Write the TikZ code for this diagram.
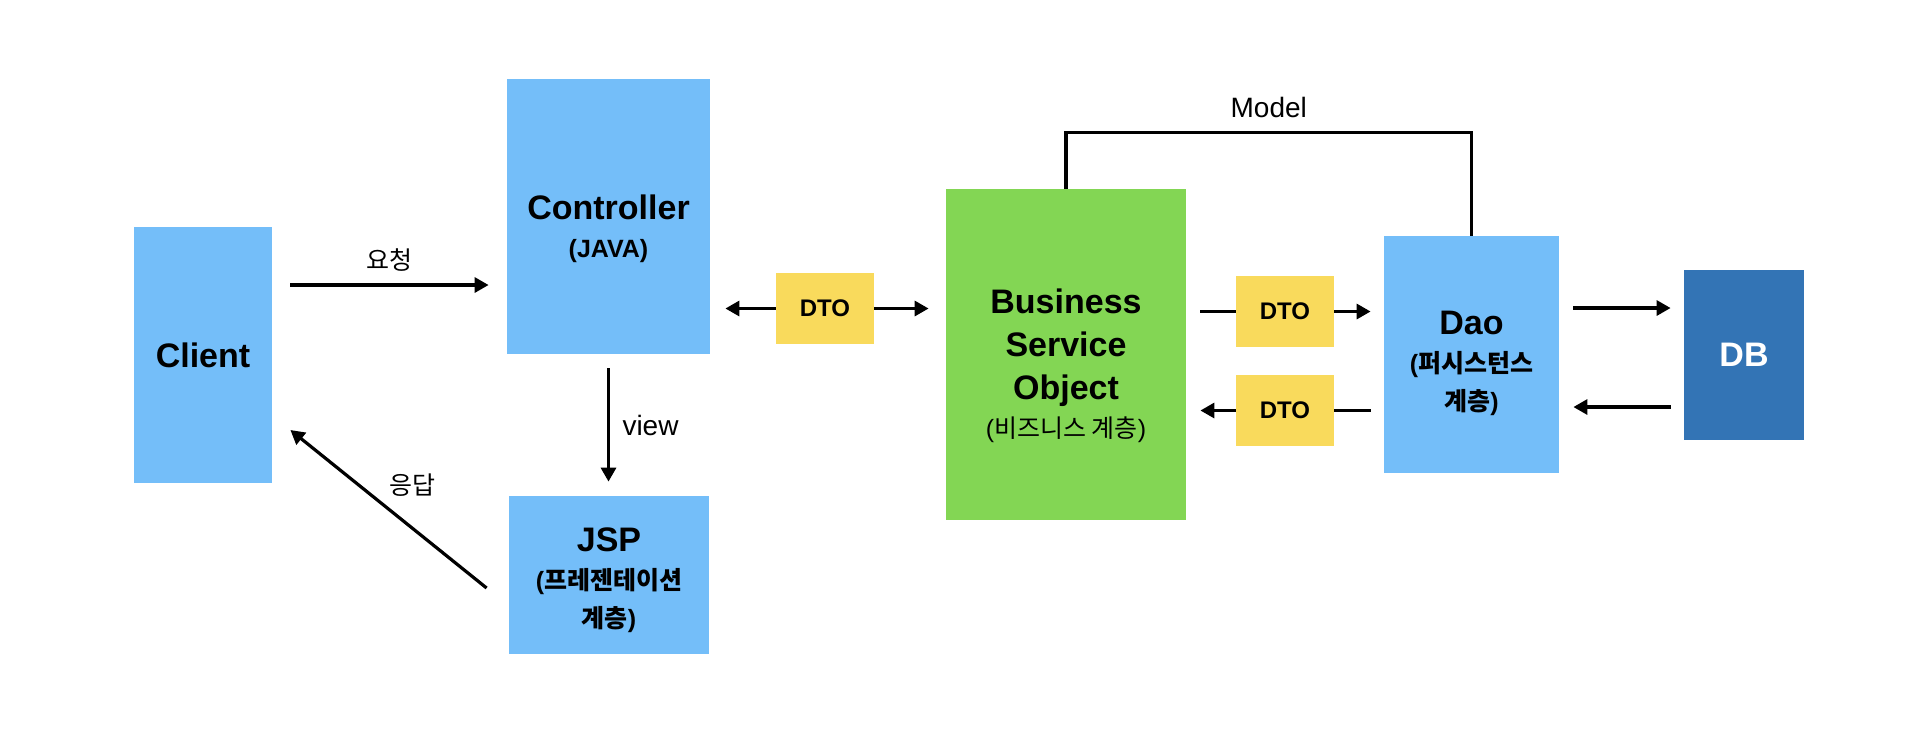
\documentclass[tikz,border=0pt]{standalone}
\usepackage{fontspec}
\setmainfont{Liberation Sans}
\newfontfamily\krfont{Noto Sans CJK KR}
\usetikzlibrary{arrows.meta,calc}

\definecolor{boxblue}{RGB}{116,190,249}
\definecolor{boxgreen}{RGB}{131,214,84}
\definecolor{boxyellow}{RGB}{249,218,92}
\definecolor{dbblue}{RGB}{51,116,181}

\newcommand{\kor}[1]{{\krfont #1}}
\newcommand{\subline}[1]{{\fontsize{12.5pt}{19pt}\selectfont #1}}
\newcommand{\topgap}[1]{\rule{0pt}{#1}}

\begin{document}
\begin{tikzpicture}[x=0.5pt,y=-0.5pt,
    box/.style={rectangle,fill=boxblue,align=center,inner sep=0pt,
        font=\bfseries\fontsize{17pt}{19pt}\selectfont},
    dto/.style={rectangle,fill=boxyellow,minimum width=49pt,minimum height=35.5pt,
        inner sep=0pt,font=\bfseries\fontsize{12pt}{14pt}\selectfont},
    arr/.style={line width=1.6pt,-{Triangle[length=7pt,width=7.5pt]}},
    line/.style={line width=1.6pt},
    lbl/.style={font=\fontsize{14pt}{16pt}\selectfont},
    klbl/.style={font=\krfont\fontsize{12.5pt}{14pt}\selectfont}]
    \useasboundingbox (0,0) rectangle (1932,736);

    % boxes
    \node[box,minimum width=69pt,minimum height=128pt] (client) at (203,355) {Client};
    \node[box,minimum width=101.5pt,minimum height=137.5pt] (ctrl) at (608.5,216.5)
        {\topgap{24.5pt}Controller\\ \subline{(JAVA)}};
    \node[box,minimum width=100pt,minimum height=79pt] (jsp) at (609,575)
        {\topgap{17pt}JSP\\ \subline{(\kor{프레젠테이션}}\\ \subline{\kor{계층})}};
    \node[box,fill=boxgreen,minimum width=120pt,minimum height=165.5pt] (bso) at (1066,354.5)
        {\topgap{24pt}Business\\[2.5pt]Service\\[2.5pt]Object\\ \subline{\mdseries(\kor{비즈니스 계층})}};
    \node[box,minimum width=87.5pt,minimum height=118.5pt] (dao) at (1471.5,354.5)
        {\topgap{20.5pt}Dao\\ \subline{(\kor{퍼시스턴스}}\\ \subline{\kor{계층})}};
    \node[box,fill=dbblue,text=white,minimum width=60pt,minimum height=85pt] (db) at (1744,355) {DB};

    % dto boxes
    \node[dto] (dtoL) at (825,308.5) {DTO};
    \node[dto] (dtoA) at (1285,311.5) {DTO};
    \node[dto] (dtoB) at (1285,410.5) {DTO};

    % client <-> controller / jsp
    \draw[arr] ($(client.east)+(18,-70)$) -- ($(client.east -| ctrl.west)+(-18,-70)$)
        node[klbl,midway,yshift=12.5pt] {요청};
    \draw[arr] ($(ctrl.south)+(0,14)$) -- ($(ctrl.south |- jsp.north)+(0,-14)$)
        node[lbl,midway,xshift=21pt] {view};
    \draw[arr] ($(jsp.west)+(-22,13)$) -- ($(client.east)+(18,75)$)
        node[klbl,midway,xshift=12pt,yshift=12pt] {응답};

    % dto arrows
    \draw[arr] (dtoL.west) -- ($(dtoL.west -| ctrl.east)+(15,0)$);
    \draw[arr] (dtoL.east) -- ($(dtoL.east -| bso.west)+(-17,0)$);
    \draw[line] ($(dtoA.west -| bso.east)+(14,0)$) -- (dtoA.west);
    \draw[arr] (dtoA.east) -- ($(dtoA.east -| dao.west)+(-13,0)$);
    \draw[line] ($(dtoB.east -| dao.west)+(-13,0)$) -- (dtoB.east);
    \draw[arr] (dtoB.west) -- ($(dtoB.west -| bso.east)+(14,0)$);

    % dao <-> db
    \draw[arr] ($(dao.east)+(14,-46.5)$) -- ($(db.west)+(-13,-47)$);
    \draw[arr] ($(db.west)+(-13,52)$) -- ($(dao.east)+(14,52.5)$);

    % model
    \draw[line] (bso.north) -- ++(0,-56) -| node[lbl,pos=0.25,yshift=12.5pt] {Model} (dao.north);
\end{tikzpicture}
\end{document}
